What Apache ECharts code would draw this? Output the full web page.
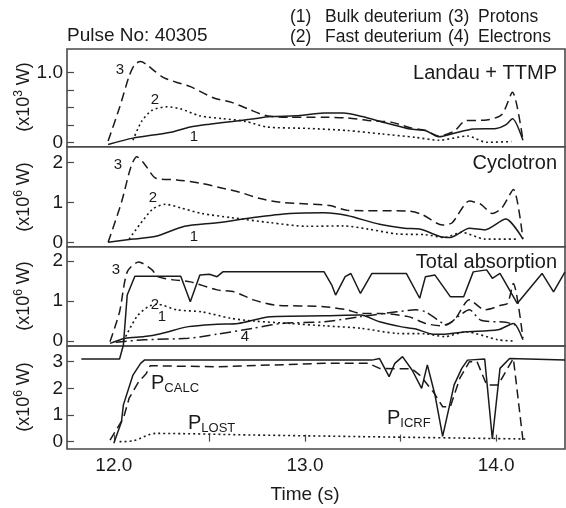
<!DOCTYPE html>
<html>
<head>
<meta charset="utf-8">
<script src="https://cdn.jsdelivr.net/npm/echarts@6/dist/echarts.min.js"></script>
<style>html,body{margin:0;padding:0;background:#fff}#c{width:566px;height:508px}</style>
</head>
<body>
<div id="c"></div>
<script>
// ---------- data ----------
const timeTicks = [12.0, 12.5, 13.0, 13.5, 14.0];
const timeLabels = [12.0, 13.0, 14.0];
const p1Ticks = [0, 0.25, 0.5, 0.75, 1.0];
const p1Labels = [0, 1.0];
const p2Labels = [0, 1, 2];
const p3Labels = [0, 1, 2];
const p4Labels = [0, 1, 2, 3];

// Panel 1: Landau + TTMP (x10^3 W)
const landauBulkD = [[11.97,-0.03],[12.10,0.06],[12.29,0.14],[12.40,0.22],[12.50,0.26],[12.62,0.30],[12.71,0.33],[12.82,0.37],[12.95,0.38],[13.10,0.42],[13.20,0.42],[13.30,0.37],[13.42,0.28],[13.55,0.19],[13.63,0.17],[13.70,0.08],[13.78,0.13],[13.88,0.19],[14.00,0.20],[14.05,0.25],[14.085,0.34],[14.14,0.03]];
const landauFastD = [[12.10,0.03],[12.145,0.30],[12.20,0.46],[12.28,0.51],[12.35,0.48],[12.45,0.38],[12.57,0.34],[12.69,0.30],[12.80,0.22],[13.01,0.20],[13.22,0.17],[13.40,0.12],[13.58,0.07],[13.70,0.03],[13.85,0.09],[13.95,0.0],[14.08,0.01]];
const landauProtons = [[11.97,0.02],[12.03,0.5],[12.08,0.95],[12.11,1.12],[12.14,1.16],[12.17,1.12],[12.21,1.03],[12.26,0.93],[12.33,0.86],[12.40,0.80],[12.52,0.64],[12.62,0.57],[12.71,0.47],[12.80,0.38],[12.92,0.36],[13.10,0.36],[13.22,0.35],[13.35,0.31],[13.45,0.29],[13.55,0.21],[13.63,0.17],[13.70,0.09],[13.78,0.16],[13.84,0.31],[13.95,0.32],[14.03,0.40],[14.085,0.72],[14.14,0.03]];

// Panel 2: Cyclotron (x10^6 W)
const cycBulkD = [[11.97,0],[12.10,0.08],[12.22,0.15],[12.37,0.40],[12.54,0.49],[12.73,0.62],[12.92,0.72],[13.10,0.74],[13.22,0.67],[13.39,0.45],[13.52,0.35],[13.60,0.33],[13.71,0.14],[13.76,0.12],[13.86,0.35],[13.94,0.31],[14.05,0.58],[14.14,0.08]];
const cycFastD = [[12.08,0.08],[12.20,0.82],[12.27,0.95],[12.35,0.86],[12.46,0.72],[12.61,0.62],[12.82,0.49],[13.01,0.40],[13.20,0.41],[13.33,0.33],[13.48,0.21],[13.63,0.19],[13.73,0.12],[13.82,0.25],[13.94,0.08],[14.11,0.08]];
const cycProtons = [[11.97,0],[12.04,1.0],[12.09,1.9],[12.12,2.14],[12.16,1.96],[12.22,1.60],[12.33,1.56],[12.45,1.48],[12.57,1.35],[12.66,1.25],[12.76,1.10],[12.87,1.00],[13.01,0.96],[13.13,0.92],[13.22,0.80],[13.54,0.78],[13.61,0.70],[13.72,0.43],[13.77,0.49],[13.86,1.03],[13.92,0.95],[13.98,0.72],[14.03,0.86],[14.09,1.32],[14.14,0.08]];

// Panel 3: Total absorption (x10^6 W)
const totBulkD = [[11.98,-0.06],[12.06,0.07],[12.16,0.11],[12.25,0.19],[12.39,0.36],[12.54,0.42],[12.65,0.44],[12.82,0.61],[13.10,0.63],[13.29,0.65],[13.39,0.48],[13.50,0.36],[13.58,0.30],[13.67,0.17],[13.73,0.17],[13.84,0.23],[14.01,0.28],[14.09,0.44],[14.14,0.03]];
const totFastD = [[12.05,0],[12.12,0.61],[12.18,0.86],[12.23,0.92],[12.33,0.78],[12.46,0.73],[12.61,0.57],[12.73,0.50],[12.92,0.44],[13.10,0.38],[13.29,0.32],[13.48,0.19],[13.63,0.18],[13.73,0.11],[13.84,0.23],[14.01,0.03],[14.09,0.0]];
const totProtons = [[11.98,-0.02],[12.03,0.73],[12.07,1.73],[12.13,1.98],[12.20,1.78],[12.23,1.61],[12.31,1.53],[12.40,1.48],[12.54,1.28],[12.63,1.23],[12.73,1.03],[12.84,0.90],[13.10,0.86],[13.22,0.78],[13.29,0.69],[13.39,0.69],[13.54,0.61],[13.63,0.44],[13.71,0.38],[13.78,0.52],[13.86,1.03],[13.94,0.78],[14.03,0.90],[14.06,0.94],[14.09,1.44],[14.14,0.07]];
const totElectrons = [[12.01,-0.03],[12.16,0.03],[12.39,0.07],[12.54,0.17],[12.73,0.32],[12.88,0.44],[13.10,0.48],[13.29,0.61],[13.48,0.73],[13.58,0.78],[13.63,0.73],[13.72,0.44],[13.74,0.40],[13.80,0.61],[13.86,0.78],[13.92,0.52],[14.05,0.47],[14.10,0.40]];
const totAll = [[11.83,-0.45],[12.03,-0.45],[12.05,-0.1],[12.07,1.15],[12.11,1.62],[12.35,1.62],[12.40,0.98],[12.45,1.65],[12.50,1.67],[12.54,1.61],[12.57,1.73],[13.10,1.73],[13.14,1.40],[13.16,1.15],[13.21,1.61],[13.24,1.69],[13.29,1.19],[13.35,1.69],[13.53,1.69],[13.60,1.07],[13.63,1.61],[13.68,1.65],[13.76,1.11],[13.83,1.11],[13.88,1.73],[13.95,1.78],[13.98,1.57],[14.02,1.69],[14.11,0.94],[14.24,1.69],[14.30,1.23],[14.36,1.73]];

// Panel 4: powers (x10^6 W)
const pIcrf = [[12.00,-0.06],[12.04,0.75],[12.05,1.38],[12.10,2.50],[12.14,2.94],[12.16,3.06],[13.35,3.06],[13.39,3.12],[13.44,2.44],[13.47,2.94],[13.51,3.19],[13.56,2.69],[13.61,2.00],[13.64,2.88],[13.68,1.75],[13.72,0.20],[13.78,2.13],[13.82,2.75],[13.85,3.06],[13.94,3.10],[13.98,0.10],[14.02,2.75],[14.07,3.12],[14.36,3.06]];
const pCalc = [[11.98,0.06],[12.05,0.88],[12.08,1.63],[12.13,2.25],[12.17,2.56],[12.19,2.85],[12.54,2.81],[13.10,2.94],[13.33,2.94],[13.39,2.75],[13.56,2.73],[13.60,2.50],[13.67,1.88],[13.72,1.31],[13.76,1.31],[13.81,2.38],[13.86,3.00],[13.90,3.00],[13.95,2.13],[14.01,2.13],[14.05,2.63],[14.09,3.12],[14.14,0.06]];
const pLost = [[12.03,0],[12.10,0.03],[12.22,0.31],[12.73,0.25],[13.29,0.19],[14.16,0.10]];

// ---------- chart ----------
const FONT = 'Liberation Sans, Arial, sans-serif';
const INK = '#1a1a1a';
const AX = '#4a4a4a';
const chart = echarts.init(document.getElementById('c'), null, {renderer: 'canvas'});

const L = 67, W = 498;
const grids = [
  {left: L, width: W, top: 49, height: 97.7},
  {left: L, width: W, top: 146.7, height: 100},
  {left: L, width: W, top: 246.7, height: 99.3},
  {left: L, width: W, top: 346, height: 103}
].map(g => Object.assign(g, {show: true, borderColor: AX, borderWidth: 1.6, containLabel: false}));

function xAxis(i, showLabels) {
  return {
    type: 'value', gridIndex: i, min: 11.755, max: 14.36,
    axisLine: {show: false}, splitLine: {show: false},
    axisTick: {show: showLabels, inside: true, length: 7, lineStyle: {color: AX, width: 1.2}, customValues: timeTicks},
    axisLabel: {show: showLabels, customValues: timeLabels, formatter: v => v.toFixed(1), color: INK, fontSize: 19, fontFamily: FONT, margin: 7}
  };
}
function yAxis(i, min, max, ticks, labels, fmt) {
  return {
    type: 'value', gridIndex: i, min: min, max: max,
    axisLine: {show: false}, splitLine: {show: false},
    axisTick: {show: true, inside: true, length: 7, lineStyle: {color: AX, width: 1.2}, customValues: ticks},
    axisLabel: {customValues: labels, formatter: fmt, color: INK, fontSize: 19, fontFamily: FONT, margin: 4}
  };
}
const intFmt = v => String(Math.round(v));

function line(name, data, idx, type, extra) {
  const dashes = {solid: 'solid', dash: [9, 5], dot: [2, 3], dashdot: [11, 4, 2, 4]};
  return Object.assign({
    name: name, type: 'line', data: data, xAxisIndex: idx, yAxisIndex: idx,
    symbol: 'none', smooth: 0.25, animation: false,
    lineStyle: {color: INK, width: type === 'dot' ? 1.6 : 1.5, type: dashes[type]}
  }, extra || {});
}

function txt(x, y, text, size, align, extra) {
  return Object.assign({
    type: 'text', x: x, y: y,
    style: {text: text, fill: INK, fontSize: size, fontFamily: FONT, align: align || 'left', verticalAlign: 'middle'}
  }, extra || {});
}
function rtxt(x, y, text, size, rich, extra) {
  return Object.assign({
    type: 'text', x: x, y: y,
    style: {text: text, fill: INK, fontSize: size, fontFamily: FONT, align: 'left', verticalAlign: 'middle', rich: rich}
  }, extra || {});
}
const supRich = {m: {fontSize: 18, fontFamily: FONT, color: INK, lineHeight: 22}, s: {fontSize: 12, fontFamily: FONT, color: INK, verticalAlign: 'top', lineHeight: 22}};
const subRich = {m: {fontSize: 20, fontFamily: FONT, color: INK, lineHeight: 24}, s: {fontSize: 13, fontFamily: FONT, color: INK, verticalAlign: 'bottom', lineHeight: 24}};

function yName(y, exp) {
  return {type: 'text', x: 24, y: y, rotation: Math.PI / 2,
    style: {text: '{m|(x10}{s|' + exp + '}{m| W)}', fill: INK, fontFamily: FONT, fontSize: 18, align: 'center', verticalAlign: 'middle', rich: supRich}};
}

const option = {
  backgroundColor: '#fff',
  animation: false,
  grid: grids,
  xAxis: [xAxis(0, false), xAxis(1, false), xAxis(2, false), xAxis(3, true)],
  yAxis: [
    yAxis(0, -0.063, 1.34, p1Ticks, p1Labels, v => v === 0 ? '0' : v.toFixed(1)),
    yAxis(1, -0.11, 2.39, p2Labels, p2Labels, intFmt),
    yAxis(2, -0.125, 2.36, p3Labels, p3Labels, intFmt),
    yAxis(3, -0.275, 3.59, p4Labels, p4Labels, intFmt)
  ],
  series: [
    line('Bulk deuterium', landauBulkD, 0, 'solid'),
    line('Fast deuterium', landauFastD, 0, 'dot'),
    line('Protons', landauProtons, 0, 'dash'),
    line('Bulk deuterium', cycBulkD, 1, 'solid'),
    line('Fast deuterium', cycFastD, 1, 'dot'),
    line('Protons', cycProtons, 1, 'dash'),
    line('Total', totAll, 2, 'solid', {smooth: false, clip: false}),
    line('Bulk deuterium', totBulkD, 2, 'solid'),
    line('Fast deuterium', totFastD, 2, 'dot'),
    line('Protons', totProtons, 2, 'dash'),
    line('Electrons', totElectrons, 2, 'dashdot'),
    line('P_ICRF', pIcrf, 3, 'solid', {smooth: false}),
    line('P_CALC', pCalc, 3, 'dash', {smooth: false}),
    line('P_LOST', pLost, 3, 'dot', {smooth: 0.3})
  ],
  graphic: [
    txt(67, 36, 'Pulse No: 40305', 19),
    txt(290, 17, '(1)', 17.5), txt(325, 17, 'Bulk deuterium', 17.5), txt(448, 17, '(3)', 17.5), txt(478, 17, 'Protons', 17.5),
    txt(290, 37, '(2)', 17.5), txt(325, 37, 'Fast deuterium', 17.5), txt(448, 37, '(4)', 17.5), txt(478, 37, 'Electrons', 17.5),
    txt(557, 73, 'Landau + TTMP', 20, 'right'),
    txt(557, 163, 'Cyclotron', 20, 'right'),
    txt(557, 262, 'Total absorption', 20, 'right'),
    txt(120, 70, '3', 15, 'center'), txt(155, 100, '2', 15, 'center'), txt(194, 137, '1', 15, 'center'),
    txt(118, 165, '3', 15, 'center'), txt(153, 198, '2', 15, 'center'), txt(194, 237, '1', 15, 'center'),
    txt(116, 270, '3', 15, 'center'), txt(155, 305, '2', 15, 'center'), txt(162, 317, '1', 15, 'center'), txt(245, 337, '4', 15, 'center'),
    rtxt(151, 383, '{m|P}{s|CALC}', 20, subRich),
    rtxt(188, 423, '{m|P}{s|LOST}', 20, subRich),
    rtxt(387, 418, '{m|P}{s|ICRF}', 20, subRich),
    txt(305, 495, 'Time (s)', 19, 'center'),
    yName(97, '3'), yName(197, '6'), yName(296, '6'), yName(397, '6')
  ]
};
chart.setOption(option);
</script>
</body>
</html>
